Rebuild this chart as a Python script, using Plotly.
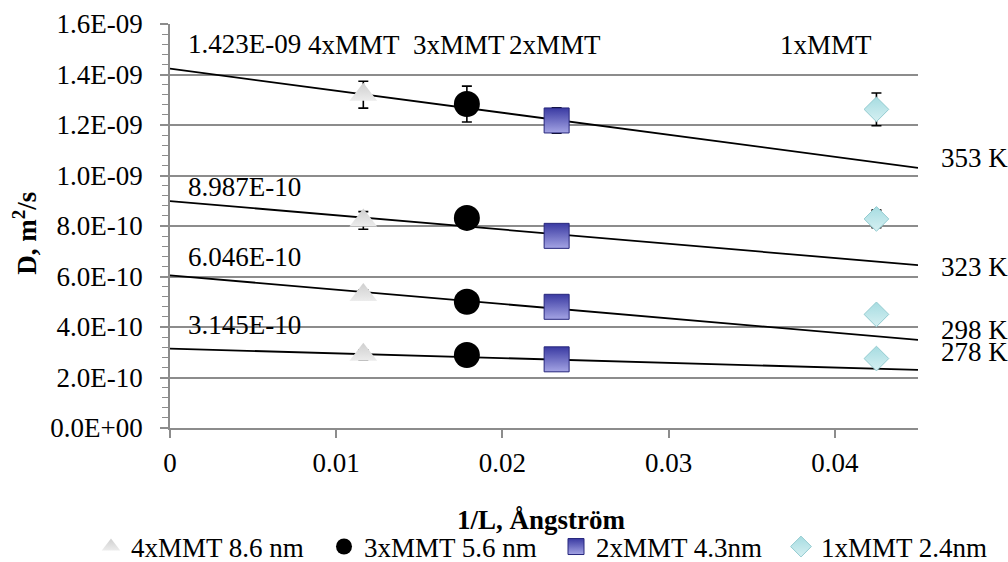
import plotly.graph_objects as go

# ---------------- data ----------------
temps = ["353 K", "323 K", "298 K", "278 K"]
series_names = ["4xMMT 8.6 nm", "3xMMT 5.6 nm", "2xMMT 4.3nm", "1xMMT 2.4nm"]
group_labels = ["4xMMT", "3xMMT", "2xMMT", "1xMMT"]
inv_L = [0.01163, 0.01786, 0.02326, 0.0425]  # 1/L per series

# D values per series, ordered as temps
D_4x = [1.320e-9, 0.822e-9, 0.527e-9, 0.290e-9]
D_3x = [1.283e-9, 0.832e-9, 0.500e-9, 0.289e-9]
D_2x = [1.218e-9, 0.761e-9, 0.480e-9, 0.272e-9]
D_1x = [1.262e-9, 0.828e-9, 0.450e-9, 0.275e-9]

err_4x = [0.053e-9, 0.035e-9, 0.020e-9, 0.020e-9]
err_3x = [0.071e-9, 0.030e-9, 0.030e-9, 0.030e-9]
err_2x = [0.050e-9, 0.030e-9, 0.030e-9, 0.030e-9]
err_1x = [0.065e-9, 0.035e-9, 0.020e-9, 0.020e-9]

# linear fits per temperature
fit_intercepts = [1.423e-9, 8.987e-10, 6.046e-10, 3.145e-10]
fit_slopes = [-8.73e-9, -5.64e-9, -5.68e-9, -1.88e-9]
intercept_labels = ["1.423E-09", "8.987E-10", "6.046E-10", "3.145E-10"]

x_range = [0, 0.045]
x_ticks = [0, 0.01, 0.02, 0.03, 0.04]
x_tick_labels = ["0", "0.01", "0.02", "0.03", "0.04"]
y_ticks = [0, 2e-10, 4e-10, 6e-10, 8e-10, 1.0e-9, 1.2e-9, 1.4e-9, 1.6e-9]
y_tick_labels = ["0.0E+00", "2.0E-10", "4.0E-10", "6.0E-10", "8.0E-10",
                 "1.0E-09", "1.2E-09", "1.4E-09", "1.6E-09"]

# ---------------- style ----------------
FONT = "Liberation Serif"
FS = 27
GRID = "#8c8c8c"

series_D = [D_4x, D_3x, D_2x, D_1x]
series_err = [err_4x, err_3x, err_2x, err_1x]
marker_styles = [
    dict(symbol="triangle-up", size=24, color="#cfcfcf",
         gradient=dict(type="vertical", color="#ececec"), line=dict(width=0)),
    dict(symbol="circle", size=26, color="#000000", line=dict(width=0)),
    dict(symbol="square", size=25, color="#3a3aa2",
         gradient=dict(type="vertical", color="#a4a4e4"),
         line=dict(width=1, color="#26267c")),
    dict(symbol="diamond", size=19, color="#a6dce1",
         gradient=dict(type="vertical", color="#d6f0f2"),
         line=dict(width=1, color="#93cbd0")),
]
legend_ids = ["legend", "legend2", "legend3", "legend4"]
legend_left_px = [91, 324, 556, 781]  # left edge of each legend entry

fig = go.Figure()

# trend lines
for b, m in zip(fit_intercepts, fit_slopes):
    fig.add_trace(go.Scatter(
        x=x_range, y=[b + m * xv for xv in x_range], mode="lines",
        line=dict(color="black", width=1.8), showlegend=False, hoverinfo="skip"))

# data series
for name, xv, D, err, ms, lg in zip(series_names, inv_L, series_D, series_err,
                                     marker_styles, legend_ids):
    fig.add_trace(go.Scatter(
        x=[xv] * len(D), y=D, mode="markers", name=name, marker=ms, legend=lg,
        error_y=dict(type="data", array=err, visible=True, color="black",
                     thickness=1.6, width=5)))

annotations = []
# intercept labels
intercept_yshift = [25, 14, 18, 24]
for b, lab, ys in zip(fit_intercepts, intercept_labels, intercept_yshift):
    annotations.append(dict(x=0, y=b, xref="x", yref="y", text=lab, showarrow=False,
                            xanchor="left", yanchor="middle", xshift=16, yshift=ys,
                            font=dict(family=FONT, size=FS, color="black")))
# group labels at the top
group_xshift = [-9, -8, -2, -50]
for xv, lab, xs in zip(inv_L, group_labels, group_xshift):
    annotations.append(dict(x=xv, y=1.6e-9, xref="x", yref="y", text=lab, showarrow=False,
                            xanchor="center", yanchor="middle", xshift=xs, yshift=-21,
                            font=dict(family=FONT, size=FS, color="black")))
# temperature labels at right
temp_yshift = [10, -2, 10, 18]
for b, m, lab, ys in zip(fit_intercepts, fit_slopes, temps, temp_yshift):
    annotations.append(dict(x=1, y=b + m * x_range[1], xref="paper", yref="y", text=lab,
                            showarrow=False, xanchor="left", yanchor="middle",
                            xshift=21, yshift=ys,
                            font=dict(family=FONT, size=FS, color="black")))
# axis titles
annotations.append(dict(x=0.497, y=-0.228, xref="paper", yref="paper",
                        text="<b>1/L, Ångström</b>", showarrow=False,
                        xanchor="center", yanchor="middle",
                        font=dict(family=FONT, size=FS, color="black")))
annotations.append(dict(x=-0.194, y=0.483, xref="paper", yref="paper",
                        text="<b>D, m<sup>2</sup>/s</b>", showarrow=False, textangle=-90,
                        xanchor="center", yanchor="middle",
                        font=dict(family=FONT, size=FS, color="black")))

PLOT_L, PLOT_W = 170, 748
legend_layouts = {}
for lg, left in zip(legend_ids, legend_left_px):
    legend_layouts[lg] = dict(
        orientation="h", x=(left - PLOT_L) / PLOT_W, xanchor="left",
        y=-0.2945, yanchor="middle",
        font=dict(family=FONT, size=FS, color="black"),
        bgcolor="rgba(0,0,0,0)", itemclick=False, borderwidth=0)

fig.update_layout(
    width=1008, height=562,
    margin=dict(l=170, r=90, t=24, b=134, autoexpand=False),
    paper_bgcolor="white", plot_bgcolor="white",
    font=dict(family=FONT, size=FS, color="black"),
    showlegend=True,
    annotations=annotations,
    xaxis=dict(range=x_range, tickvals=x_ticks, ticktext=x_tick_labels,
               showgrid=False, zeroline=False, showline=True, linecolor=GRID,
               linewidth=1.5, ticks="outside", ticklen=8, tickcolor=GRID,
               tickwidth=1.5, ticklabelstandoff=2,
               tickfont=dict(family=FONT, size=FS, color="black")),
    yaxis=dict(range=[0, 1.6e-9], tickvals=y_ticks, ticktext=y_tick_labels,
               showgrid=True, gridcolor=GRID, gridwidth=1.5, zeroline=False,
               showline=True, linecolor=GRID, linewidth=1.5,
               ticks="outside", ticklen=8, tickcolor=GRID, tickwidth=1.5,
               ticklabelstandoff=12,
               minor=dict(dtick=4e-11, ticks="outside", ticklen=6, tickcolor=GRID,
                          tickwidth=1.2, showgrid=False),
               tickfont=dict(family=FONT, size=FS, color="black")),
    **legend_layouts,
)

fig.write_html("out.html")
